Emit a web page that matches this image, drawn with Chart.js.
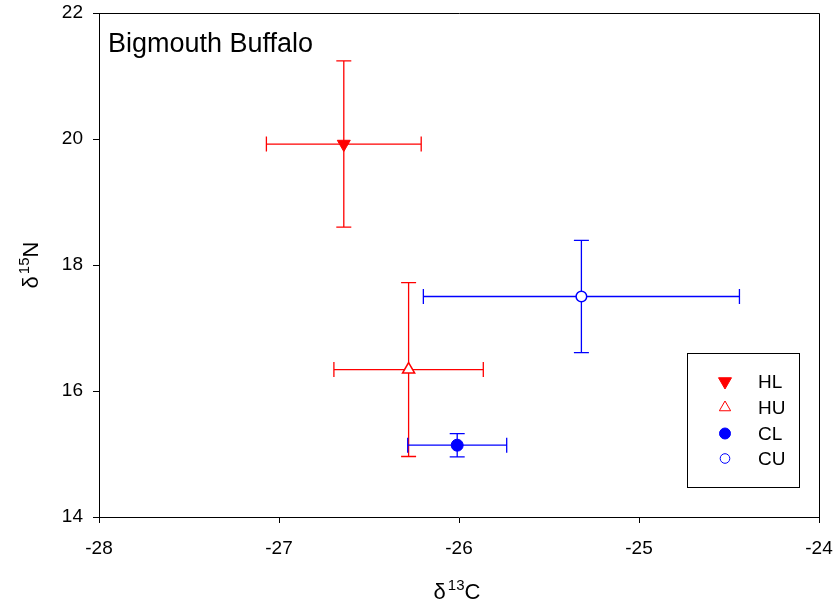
<!DOCTYPE html>
<html>
<head>
<meta charset="utf-8">
<script src="https://cdn.jsdelivr.net/npm/chart.js@4/dist/chart.umd.min.js"></script>
<style>
  body { margin: 0; background: #fff; }
  #wrap { width: 835px; height: 613px; }
</style>
</head>
<body>
<div id="wrap"><canvas id="isoChart" width="835" height="613"></canvas></div>
<script>
// Group labels and mean values
const groups = ["HL", "HU", "CL", "CU"];
const d13C = [-26.64, -26.28, -26.01, -25.32];
const d15N = [19.92, 16.34, 15.14, 17.50];
// error bar half-widths
const d13CErr = [0.43, 0.415, 0.275, 0.878];
const d15NErr = [1.32, 1.38, 0.185, 0.89];

const xTicks = [-28, -27, -26, -25, -24];
const yTicks = [14, 16, 18, 20, 22];

const colors = ["#ff0000", "#ff0000", "#0000ff", "#0000ff"];
const fills = ["#ff0000", "#ffffff", "#0000ff", "#ffffff"];
const styles = ["triangle", "triangle", "circle", "circle"];
const rotations = [180, 0, 0, 0];
const radii = [7.5, 7, 6, 5.3];
const legendRadii = [7.5, 6.5, 5.5, 4.8];

const FONT = "'Liberation Sans', Arial, sans-serif";

// Build one dataset per group
const datasets = groups.map((g, i) => ({
  label: g,
  data: [{ x: d13C[i], y: d15N[i] }],
  pointStyle: styles[i],
  rotation: rotations[i],
  pointRadius: radii[i],
  pointBackgroundColor: fills[i],
  pointBorderColor: colors[i],
  pointBorderWidth: i % 2 === 0 ? 1 : 1.5,
}));

// Draws the error bars under the markers
const errorBars = {
  id: "errorBars",
  beforeDatasetsDraw(chart) {
    const { ctx, scales } = chart;
    const xs = scales.x, ys = scales.y;
    const cap = 7.5;
    ctx.save();
    ctx.lineWidth = 1.3;
    groups.forEach((g, i) => {
      const cx = xs.getPixelForValue(d13C[i]);
      const cy = ys.getPixelForValue(d15N[i]);
      const x1 = xs.getPixelForValue(d13C[i] - d13CErr[i]);
      const x2 = xs.getPixelForValue(d13C[i] + d13CErr[i]);
      const y1 = ys.getPixelForValue(d15N[i] + d15NErr[i]);
      const y2 = ys.getPixelForValue(d15N[i] - d15NErr[i]);
      ctx.strokeStyle = colors[i];
      ctx.beginPath();
      ctx.moveTo(x1, cy); ctx.lineTo(x2, cy);
      ctx.moveTo(x1, cy - cap); ctx.lineTo(x1, cy + cap);
      ctx.moveTo(x2, cy - cap); ctx.lineTo(x2, cy + cap);
      ctx.moveTo(cx, y1); ctx.lineTo(cx, y2);
      ctx.moveTo(cx - cap, y1); ctx.lineTo(cx + cap, y1);
      ctx.moveTo(cx - cap, y2); ctx.lineTo(cx + cap, y2);
      ctx.stroke();
    });
    ctx.restore();
  },
};

// Frame, title, axis titles with superscripts, and the boxed legend
const decorations = {
  id: "decorations",
  afterDraw(chart) {
    const { ctx, chartArea: a } = chart;
    ctx.save();
    // top and right frame lines
    ctx.strokeStyle = "#000";
    ctx.lineWidth = 1;
    ctx.beginPath();
    ctx.moveTo(Math.round(a.left) + 0.5, Math.round(a.top) + 0.5);
    ctx.lineTo(Math.round(a.right) + 0.5, Math.round(a.top) + 0.5);
    ctx.lineTo(Math.round(a.right) + 0.5, Math.round(a.bottom) + 0.5);
    ctx.stroke();

    // panel title
    ctx.fillStyle = "#000";
    ctx.textBaseline = "alphabetic";
    ctx.textAlign = "left";
    ctx.font = "27px " + FONT;
    ctx.fillText("Bigmouth Buffalo", 108, 52);

    // x axis title: δ13C
    drawIsoLabel(ctx, "13", "C", 457, 599, 0);
    // y axis title: δ15N (rotated)
    drawIsoLabel(ctx, "15", "N", 38, 265, -Math.PI / 2);

    // legend box
    ctx.strokeStyle = "#000";
    ctx.lineWidth = 1;
    ctx.strokeRect(687.5, 353.5, 112, 134);
    const rowY = [381.5, 407.5, 433.5, 458.5];
    ctx.font = "19px " + FONT;
    ctx.textBaseline = "middle";
    groups.forEach((g, i) => {
      ctx.fillStyle = fills[i];
      ctx.strokeStyle = colors[i];
      Chart.helpers.drawPoint(ctx, {
        pointStyle: styles[i],
        rotation: rotations[i],
        radius: legendRadii[i],
        borderWidth: i % 2 === 0 ? 1 : 1.5,
      }, 725, rowY[i]);
      ctx.fillStyle = "#000";
      ctx.fillText(g, 758, rowY[i] + 1);
    });
    ctx.restore();
  },
};

// δ + superscript number + element, centred on (cx, baseline)
function drawIsoLabel(ctx, sup, el, cx, baseY, angle) {
  ctx.save();
  ctx.fillStyle = "#000";
  ctx.textBaseline = "alphabetic";
  ctx.textAlign = "left";
  const big = "22px " + FONT, small = "15px " + FONT;
  ctx.font = big;
  const wd = ctx.measureText("δ").width;
  const we = ctx.measureText(el).width;
  ctx.font = small;
  const ws = ctx.measureText(sup).width;
  const total = wd + 2 + ws + we;
  ctx.translate(cx, baseY);
  ctx.rotate(angle);
  let x = -total / 2;
  ctx.font = big;
  ctx.fillText("δ", x, 0);
  x += wd + 2;
  ctx.font = small;
  ctx.fillText(sup, x, -9);
  x += ws;
  ctx.font = big;
  ctx.fillText(el, x, 0);
  ctx.restore();
}

new Chart(document.getElementById("isoChart"), {
  type: "scatter",
  data: { datasets },
  options: {
    responsive: false,
    animation: false,
    layout: { padding: { top: 13, right: 16, left: 0, bottom: 0 } },
    plugins: {
      legend: { display: false },
      tooltip: { enabled: false },
    },
    scales: {
      x: {
        type: "linear",
        min: -28,
        max: -24,
        afterBuildTicks: (s) => { s.ticks = xTicks.map((v) => ({ value: v })); },
        afterFit: (s) => { s.height = 96; s.paddingLeft = 0; s.paddingRight = 0; },
        grid: { display: true, drawOnChartArea: false, drawTicks: true, tickLength: 6, color: "#000" },
        border: { display: true, color: "#000", width: 1 },
        ticks: { color: "#000", padding: 14, font: { family: FONT, size: 19 } },
      },
      y: {
        type: "linear",
        min: 14,
        max: 22,
        afterBuildTicks: (s) => { s.ticks = yTicks.map((v) => ({ value: v })); },
        afterFit: (s) => { s.width = 99; s.paddingTop = 0; s.paddingBottom = 0; },
        grid: { display: true, drawOnChartArea: false, drawTicks: true, tickLength: 6, color: "#000" },
        border: { display: true, color: "#000", width: 1 },
        ticks: { color: "#000", padding: 10, font: { family: FONT, size: 19 } },
      },
    },
  },
  plugins: [errorBars, decorations],
});
</script>
</body>
</html>
